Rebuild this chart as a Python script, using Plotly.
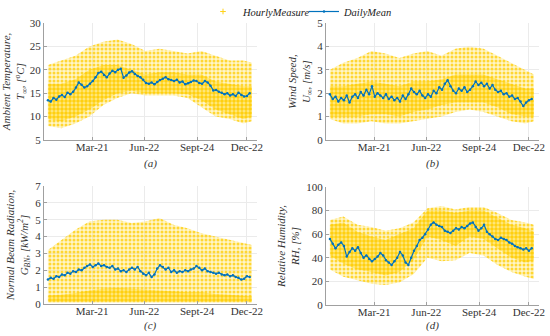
import plotly.graph_objects as go

# ---------------- data ----------------
tick_days = [80, 173, 267, 356]
tick_text = ["Mar-21", "Jun-22", "Sept-24", "Dec-22"]

# daily means sampled every 5 days starting on day 1
temp_mean = [13.5, 13.2, 14.0, 13.6, 14.3, 14.6, 14.2, 15.1, 14.8, 15.3,
             16.2, 17.3, 16.8, 16.2, 16.5, 17.0, 17.6, 18.4, 19.3, 19.6,
             18.9, 18.4, 19.2, 19.8, 19.5, 20.0, 20.2, 18.3, 18.8, 19.4,
             19.7, 19.1, 18.7, 18.4, 17.9, 17.2, 17.0, 17.3, 16.9, 17.4,
             17.8, 18.1, 18.4, 18.0, 17.8, 17.6, 17.9, 17.3, 17.5, 16.9,
             17.1, 17.4, 17.7, 17.6, 17.2, 17.0, 17.6, 17.3, 16.6, 15.6,
             15.7, 15.3, 15.1, 14.8, 15.0, 14.5, 14.8, 14.4, 15.1, 14.6,
             14.3, 14.4, 15.0]
wind_mean = [1.95, 1.75, 1.85, 1.65, 1.80, 1.70, 1.90, 1.60, 1.85, 1.95,
             1.80, 2.05, 1.90, 2.15, 1.95, 2.30, 1.85, 2.00, 1.90, 1.80,
             1.95, 1.75, 1.85, 1.70, 1.80, 1.65, 1.90, 1.75, 1.95, 2.20,
             2.05, 1.95, 2.10, 1.90, 1.80, 1.95, 1.85, 2.10, 2.00, 2.25,
             2.15, 2.40, 2.55, 2.30, 2.10, 2.00, 2.20, 2.10, 2.25, 2.05,
             2.15, 2.30, 2.50, 2.35, 2.45, 2.30, 2.40, 2.20, 2.35, 2.15,
             2.05, 2.10, 1.95, 2.00, 1.85, 1.90, 1.75, 1.80, 1.65, 1.45,
             1.60, 1.70, 1.75]
rad_mean = [1.45, 1.55, 1.50, 1.65, 1.60, 1.75, 1.70, 1.85, 1.80, 1.95,
            1.90, 2.05, 2.00, 2.15, 2.25, 2.35, 2.20, 2.30, 2.40, 2.25,
            2.30, 2.20, 2.15, 2.25, 2.05, 2.10, 1.95, 2.00, 1.90, 2.05,
            2.15, 2.05, 2.20, 1.95, 1.80, 1.70, 1.85, 1.60, 1.75, 2.10,
            2.30, 2.20, 2.05, 2.15, 1.90, 2.00, 1.85, 1.95, 1.90, 2.00,
            1.95, 2.05, 2.10, 2.25, 2.15, 2.00, 2.10, 1.95, 1.90, 1.85,
            1.80, 1.85, 1.75, 1.70, 1.75, 1.65, 1.70, 1.60, 1.55, 1.45,
            1.50, 1.65, 1.60]
rh_mean = [56, 52, 48, 51, 53, 50, 41, 45, 48, 46,
           49, 44, 40, 42, 39, 37, 39, 41, 44, 42,
           38, 36, 34, 37, 40, 45, 42, 36, 34, 40,
           46, 50, 55, 57, 60, 64, 68, 70, 68, 67,
           66, 63, 62, 61, 63, 65, 64, 66, 65, 67,
           69, 70, 66, 63, 65, 68, 62, 60, 58, 56,
           55, 57, 56, 55, 53, 52, 50, 49, 48, 47,
           48, 46, 48]

# hourly-measure cloud: envelopes (outer) and dense core, per day below
env_days = [1, 25, 50, 75, 100, 125, 150, 175, 200, 225, 250, 275, 300, 325, 350, 365]
temp_hi = [21, 22, 23, 25, 26, 26.5, 25.5, 24, 24.5, 24, 23.5, 24, 23, 22, 22, 21.5]
temp_lo = [8, 7.5, 8.5, 10, 12.5, 14, 15, 14.5, 14.5, 14.5, 14, 12, 10, 9.5, 8.5, 9]
temp_core_hi = [17, 17, 18, 20, 21, 21, 20, 19, 19.5, 19.5, 19, 19, 17.5, 17, 16.5, 16.5]
temp_core_lo = [9.5, 9, 10, 11.5, 13.5, 15, 15.5, 15, 15, 15, 14.8, 13.5, 11.5, 10.5, 9.5, 10]
wind_hi = [3.0, 3.3, 3.5, 3.8, 3.7, 3.5, 3.7, 3.8, 3.6, 3.9, 4.0, 3.9, 3.6, 3.3, 3.0, 2.8]
wind_lo = [0.9, 0.7, 0.7, 0.8, 0.7, 0.7, 0.8, 0.9, 1.0, 1.2, 1.3, 1.2, 1.0, 0.8, 0.7, 0.8]
wind_core_hi = [2.3, 2.3, 2.4, 2.5, 2.4, 2.3, 2.5, 2.5, 2.6, 2.8, 2.8, 2.8, 2.6, 2.4, 2.2, 2.2]
wind_core_lo = [1.0, 1.0, 1.0, 1.1, 1.1, 1.0, 1.2, 1.3, 1.5, 1.6, 1.6, 1.6, 1.4, 1.1, 1.0, 1.0]
rad_hi = [3.2, 3.8, 4.4, 4.9, 5.0, 5.0, 4.8, 4.9, 5.1, 4.7, 4.5, 4.2, 4.0, 3.8, 3.6, 3.5]
rad_lo = [0.1, 0.1, 0.1, 0.1, 0.1, 0.1, 0.1, 0.1, 0.1, 0.1, 0.1, 0.1, 0.1, 0.1, 0.1, 0.1]
rad_core_hi = [0.5, 0.55, 0.65, 0.8, 0.9, 0.95, 0.9, 0.85, 0.8, 0.75, 0.7, 0.7, 0.6, 0.55, 0.5, 0.45]
rad_core_lo = [0.1, 0.1, 0.1, 0.1, 0.1, 0.1, 0.1, 0.1, 0.1, 0.1, 0.1, 0.1, 0.1, 0.1, 0.1, 0.1]
rh_hi = [72, 75, 68, 66, 63, 65, 70, 82, 84, 81, 83, 83, 78, 72, 70, 68]
rh_lo = [30, 24, 21, 18, 17, 19, 26, 40, 37, 38, 44, 42, 34, 28, 24, 22]
rh_core_hi = [68, 70, 62, 58, 55, 60, 65, 80, 80, 78, 80, 80, 74, 68, 65, 62]
rh_core_lo = [42, 35, 30, 28, 25, 28, 38, 58, 55, 50, 58, 56, 48, 40, 36, 38]

# ---------------- styling ----------------
YELLOW = "#FFD21A"
BLUE = "#0072BD"
FONT = "Liberation Serif"
TXT = "#333333"
W, H = 550, 336

def fx(px):
    return px / W

def fy(py):
    return 1 - py / H

panels = [
    dict(mean=temp_mean, hi=temp_hi, lo=temp_lo, chi=temp_core_hi, clo=temp_core_lo,
         xd=[fx(44), fx(257)], yd=[fy(140), fy(23)], yr=[5, 30], dt=5,
         title="Ambient Temperature,<br>T<sub>∞</sub>, [<sup>o</sup>C]", cap="(a)", capy=fy(163)),
    dict(mean=wind_mean, hi=wind_hi, lo=wind_lo, chi=wind_core_hi, clo=wind_core_lo,
         xd=[fx(326), fx(539)], yd=[fy(140), fy(23)], yr=[0, 5], dt=1,
         title="Wind Speed,<br>U<sub>∞</sub>, [m/s]", cap="(b)", capy=fy(163)),
    dict(mean=rad_mean, hi=rad_hi, lo=rad_lo, chi=rad_core_hi, clo=rad_core_lo,
         xd=[fx(44), fx(257)], yd=[fy(304), fy(186)], yr=[0, 7], dt=1,
         title="Normal Beam Radiation,<br>G<sub>BN</sub>, [kW/m<sup>2</sup>]", cap="(c)", capy=fy(325)),
    dict(mean=rh_mean, hi=rh_hi, lo=rh_lo, chi=rh_core_hi, clo=rh_core_lo,
         xd=[fx(326), fx(539)], yd=[fy(305), fy(187)], yr=[0, 100], dt=20,
         title="Relative Humidity,<br>RH, [%]", cap="(d)", capy=fy(325)),
]

fig = go.Figure()
layout = dict(
    width=W, height=H, margin=dict(l=0, r=0, t=0, b=0, autoexpand=False),
    paper_bgcolor="white", plot_bgcolor="white",
    font=dict(family=FONT, size=11, color=TXT),
    showlegend=True,
    legend=dict(orientation="h", x=fx(203), xanchor="left", y=fy(-3), yanchor="top",
                font=dict(family=FONT, size=10.5, style="italic", color="#222"),
                bgcolor="rgba(0,0,0,0)", itemwidth=30, entrywidth=56,
                entrywidthmode="pixels", tracegroupgap=0),
    annotations=[],
)

for i, p in enumerate(panels):
    k = "" if i == 0 else str(i + 1)
    xa, ya = "x" + k, "y" + k
    days = [1 + 5 * j for j in range(len(p["mean"]))]
    # outer hourly cloud
    fig.add_trace(go.Scatter(
        x=env_days + env_days[::-1], y=p["hi"] + p["lo"][::-1],
        fill="toself", mode="lines", line=dict(width=0),
        fillcolor="rgba(255,226,90,0.35)",
        fillpattern=dict(shape=".", fgcolor="#FFD633", bgcolor="rgba(255,228,100,0.35)",
                         size=4, solidity=0.45, fillmode="replace"),
        xaxis=xa, yaxis=ya, showlegend=False, hoverinfo="skip"))
    # dense core of the cloud
    fig.add_trace(go.Scatter(
        x=env_days + env_days[::-1], y=p["chi"] + p["clo"][::-1],
        fill="toself", mode="lines", line=dict(width=0),
        fillcolor="rgba(255,215,40,0.45)",
        fillpattern=dict(shape=".", fgcolor="#FFCF10", bgcolor="rgba(255,220,60,0.5)",
                         size=4, solidity=0.55, fillmode="replace"),
        xaxis=xa, yaxis=ya, showlegend=False, hoverinfo="skip"))
    # daily mean
    fig.add_trace(go.Scatter(
        x=days, y=p["mean"], mode="lines+markers",
        line=dict(color=BLUE, width=1.2), marker=dict(color=BLUE, size=2.5),
        name="DailyMean", xaxis=xa, yaxis=ya, showlegend=(i == 0), legendrank=2))

    layout["xaxis" + k] = dict(
        domain=p["xd"], anchor=ya, range=[-6, 374], automargin=False,
        tickvals=tick_days, ticktext=tick_text, ticklabelstandoff=-3,
        showgrid=True, gridcolor="#ebebeb", gridwidth=1,
        showline=True, linecolor="#a0a0a0", linewidth=1,
        ticks="inside", ticklen=3, tickcolor="#a0a0a0",
        tickfont=dict(family=FONT, size=11, color=TXT), zeroline=False)
    layout["yaxis" + k] = dict(
        domain=p["yd"], anchor=xa, range=p["yr"], dtick=p["dt"], automargin=False,
        showgrid=True, gridcolor="#ebebeb", gridwidth=1,
        showline=True, linecolor="#a0a0a0", linewidth=1,
        ticks="inside", ticklen=3, tickcolor="#a0a0a0",
        tickfont=dict(family=FONT, size=11, color=TXT), zeroline=False,
        title=dict(text=p["title"], standoff=4,
                   font=dict(family=FONT, size=11, style="italic", color=TXT)))
    layout["annotations"].append(dict(
        text=p["cap"], x=(p["xd"][0] + p["xd"][1]) / 2, y=p["capy"],
        xref="paper", yref="paper", showarrow=False, yanchor="middle", xanchor="center",
        font=dict(family=FONT, size=11, style="italic", color=TXT)))

# legend entry for the hourly cloud
fig.add_trace(go.Scatter(x=[None], y=[None], mode="markers",
                         marker=dict(color=YELLOW, size=4, symbol="cross-thin",
                                     line=dict(color=YELLOW, width=1)),
                         name="HourlyMeasure", legendrank=1))

fig.update_layout(**layout)
fig.write_html("out.html", config={"displayModeBar": False},
               post_script="document.body.style.margin='0px';")
